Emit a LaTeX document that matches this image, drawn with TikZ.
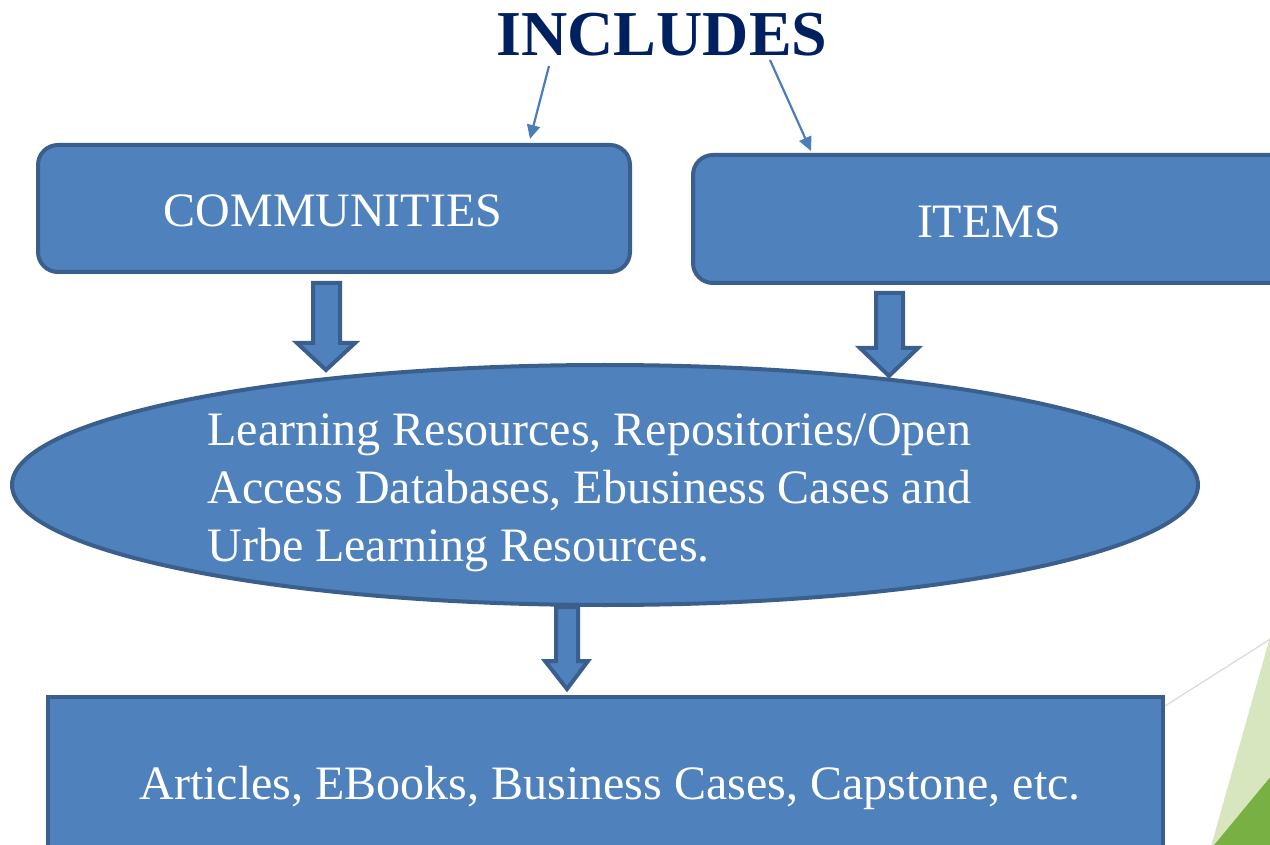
\documentclass[tikz,border=0pt]{standalone}
\usepackage{fontspec}
\setmainfont{Liberation Serif}
\usetikzlibrary{shapes.geometric,arrows.meta}
\definecolor{boxfill}{HTML}{4F81BD}
\definecolor{boxline}{HTML}{3A5F8C}
\definecolor{navy}{HTML}{002060}
\definecolor{thinarrow}{HTML}{4A7EBB}
\definecolor{lightgreen}{HTML}{D8E6BF}
\definecolor{darkgreen}{HTML}{78B043}
\tikzset{
  bluebox/.style={draw=boxline, fill=boxfill, line width=2pt},
  whitetext/.style={text=white, font=\fontsize{24}{29}\selectfont},
  blockarrow/.style={draw=boxline, fill=boxfill, line width=2pt, line join=miter},
  thin/.style={draw=thinarrow, line width=1.1pt, -{Triangle[length=7pt,width=6.5pt]}},
}
\begin{document}
\begin{tikzpicture}[x=0.5pt,y=-0.5pt]
\useasboundingbox (0,0) rectangle (1270,845);
\clip (0,0) rectangle (1270,845);
% decorative green shapes
\draw[color=black!15, line width=0.6pt] (1165,706) -- (1272,638);
\fill[lightgreen] (1272,630) -- (1210,850) -- (1272,850) -- cycle;
\fill[darkgreen] (1272,775) -- (1210,850) -- (1272,850) -- cycle;
% title
\node[font=\fontsize{32}{36}\selectfont\bfseries, text=navy, inner sep=0pt] (title) at (662,35) {INCLUDES};
% boxes
\draw[bluebox, rounded corners=10pt] (38,145) rectangle (630,272);
\node[whitetext] (comm) at (333,211) {COMMUNITIES};
\draw[bluebox, rounded corners=10pt] (693,155) rectangle (1300,283);
\node[whitetext] (items) at (989,222) {ITEMS};
\node[bluebox, ellipse, minimum width=593pt, minimum height=120pt, inner sep=0pt] (ell) at (605,485) {};
\node[whitetext, align=left, anchor=west, inner sep=0pt] (elltext) at (207,493) {Learning Resources, Repositories/Open\\Access Databases, Ebusiness Cases and\\Urbe Learning Resources.};
\draw[bluebox] (48,697) rectangle (1163,870);
\node[whitetext] (arts) at (610,788) {Articles, EBooks, Business Cases, Capstone, etc.};
% thin arrows
\coordinate (t1) at (549,66);
\coordinate (e1) at (530,139);
\coordinate (t2) at (770,60);
\coordinate (e2) at (811,151);
\draw[thin] (t1) -- (e1);
\draw[thin] (t2) -- (e2);
% block arrows
\draw[blockarrow] (313,283) -- (340,283) -- (340,343) -- (355,343) -- (326,370) -- (297,343) -- (313,343) -- cycle;
\draw[blockarrow] (876,293) -- (903,293) -- (903,348) -- (918,348) -- (889,376) -- (860,348) -- (876,348) -- cycle;
\draw[blockarrow] (556,607) -- (578,607) -- (578,661) -- (588,661) -- (567,689) -- (545,661) -- (556,661) -- cycle;
\end{tikzpicture}
\end{document}
